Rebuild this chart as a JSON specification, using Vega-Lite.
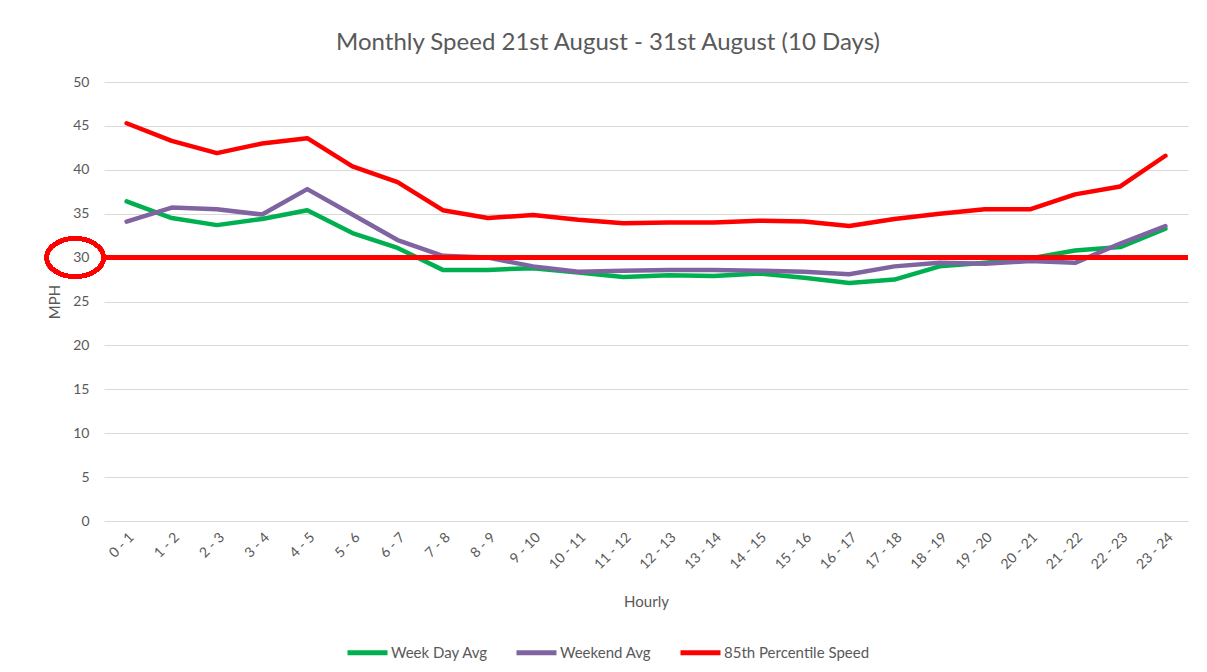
{
  "$schema": "https://vega.github.io/schema/vega-lite/v6.json",
  "width": 1084,
  "height": 439,
  "autosize": {"type": "none"},
  "padding": {"left": 104, "top": 82, "right": 19, "bottom": 151},
  "background": "white",
  "title": {
    "text": "Monthly Speed 21st August - 31st August (10 Days)",
    "font": "Lato",
    "fontSize": 24,
    "fontWeight": "normal",
    "color": "#595959",
    "anchor": "middle",
    "dx": -38,
    "offset": 20
  },
  "config": {
    "view": {"stroke": null},
    "font": "Lato",
    "axis": {"labelFont": "Lato", "titleFont": "Lato", "labelColor": "#595959", "titleColor": "#595959", "labelFontSize": 14, "titleFontSize": 15, "titleFontWeight": "normal", "ticks": false, "domain": false}
  },
  "data": {
    "values": [
      {"hour": "0 - 1", "series": "Week Day Avg", "mph": 36.4},
      {"hour": "1 - 2", "series": "Week Day Avg", "mph": 34.5},
      {"hour": "2 - 3", "series": "Week Day Avg", "mph": 33.7},
      {"hour": "3 - 4", "series": "Week Day Avg", "mph": 34.4},
      {"hour": "4 - 5", "series": "Week Day Avg", "mph": 35.4},
      {"hour": "5 - 6", "series": "Week Day Avg", "mph": 32.8},
      {"hour": "6 - 7", "series": "Week Day Avg", "mph": 31.1},
      {"hour": "7 - 8", "series": "Week Day Avg", "mph": 28.6},
      {"hour": "8 - 9", "series": "Week Day Avg", "mph": 28.6},
      {"hour": "9 - 10", "series": "Week Day Avg", "mph": 28.8},
      {"hour": "10 - 11", "series": "Week Day Avg", "mph": 28.3},
      {"hour": "11 - 12", "series": "Week Day Avg", "mph": 27.8},
      {"hour": "12 - 13", "series": "Week Day Avg", "mph": 28.0},
      {"hour": "13 - 14", "series": "Week Day Avg", "mph": 27.9},
      {"hour": "14 - 15", "series": "Week Day Avg", "mph": 28.2},
      {"hour": "15 - 16", "series": "Week Day Avg", "mph": 27.7},
      {"hour": "16 - 17", "series": "Week Day Avg", "mph": 27.1},
      {"hour": "17 - 18", "series": "Week Day Avg", "mph": 27.5},
      {"hour": "18 - 19", "series": "Week Day Avg", "mph": 29.0},
      {"hour": "19 - 20", "series": "Week Day Avg", "mph": 29.4},
      {"hour": "20 - 21", "series": "Week Day Avg", "mph": 29.9},
      {"hour": "21 - 22", "series": "Week Day Avg", "mph": 30.8},
      {"hour": "22 - 23", "series": "Week Day Avg", "mph": 31.2},
      {"hour": "23 - 24", "series": "Week Day Avg", "mph": 33.3},
      {"hour": "0 - 1", "series": "Weekend Avg", "mph": 34.1},
      {"hour": "1 - 2", "series": "Weekend Avg", "mph": 35.7},
      {"hour": "2 - 3", "series": "Weekend Avg", "mph": 35.5},
      {"hour": "3 - 4", "series": "Weekend Avg", "mph": 34.9},
      {"hour": "4 - 5", "series": "Weekend Avg", "mph": 37.8},
      {"hour": "5 - 6", "series": "Weekend Avg", "mph": 34.9},
      {"hour": "6 - 7", "series": "Weekend Avg", "mph": 32.0},
      {"hour": "7 - 8", "series": "Weekend Avg", "mph": 30.2},
      {"hour": "8 - 9", "series": "Weekend Avg", "mph": 30.0},
      {"hour": "9 - 10", "series": "Weekend Avg", "mph": 29.0},
      {"hour": "10 - 11", "series": "Weekend Avg", "mph": 28.4},
      {"hour": "11 - 12", "series": "Weekend Avg", "mph": 28.5},
      {"hour": "12 - 13", "series": "Weekend Avg", "mph": 28.6},
      {"hour": "13 - 14", "series": "Weekend Avg", "mph": 28.6},
      {"hour": "14 - 15", "series": "Weekend Avg", "mph": 28.5},
      {"hour": "15 - 16", "series": "Weekend Avg", "mph": 28.4},
      {"hour": "16 - 17", "series": "Weekend Avg", "mph": 28.1},
      {"hour": "17 - 18", "series": "Weekend Avg", "mph": 29.0},
      {"hour": "18 - 19", "series": "Weekend Avg", "mph": 29.4},
      {"hour": "19 - 20", "series": "Weekend Avg", "mph": 29.3},
      {"hour": "20 - 21", "series": "Weekend Avg", "mph": 29.6},
      {"hour": "21 - 22", "series": "Weekend Avg", "mph": 29.4},
      {"hour": "22 - 23", "series": "Weekend Avg", "mph": 31.6},
      {"hour": "23 - 24", "series": "Weekend Avg", "mph": 33.6},
      {"hour": "0 - 1", "series": "85th Percentile Speed", "mph": 45.3},
      {"hour": "1 - 2", "series": "85th Percentile Speed", "mph": 43.3},
      {"hour": "2 - 3", "series": "85th Percentile Speed", "mph": 41.9},
      {"hour": "3 - 4", "series": "85th Percentile Speed", "mph": 43.0},
      {"hour": "4 - 5", "series": "85th Percentile Speed", "mph": 43.6},
      {"hour": "5 - 6", "series": "85th Percentile Speed", "mph": 40.4},
      {"hour": "6 - 7", "series": "85th Percentile Speed", "mph": 38.6},
      {"hour": "7 - 8", "series": "85th Percentile Speed", "mph": 35.4},
      {"hour": "8 - 9", "series": "85th Percentile Speed", "mph": 34.5},
      {"hour": "9 - 10", "series": "85th Percentile Speed", "mph": 34.85},
      {"hour": "10 - 11", "series": "85th Percentile Speed", "mph": 34.3},
      {"hour": "11 - 12", "series": "85th Percentile Speed", "mph": 33.9},
      {"hour": "12 - 13", "series": "85th Percentile Speed", "mph": 34.0},
      {"hour": "13 - 14", "series": "85th Percentile Speed", "mph": 34.0},
      {"hour": "14 - 15", "series": "85th Percentile Speed", "mph": 34.2},
      {"hour": "15 - 16", "series": "85th Percentile Speed", "mph": 34.1},
      {"hour": "16 - 17", "series": "85th Percentile Speed", "mph": 33.6},
      {"hour": "17 - 18", "series": "85th Percentile Speed", "mph": 34.4},
      {"hour": "18 - 19", "series": "85th Percentile Speed", "mph": 35.0},
      {"hour": "19 - 20", "series": "85th Percentile Speed", "mph": 35.5},
      {"hour": "20 - 21", "series": "85th Percentile Speed", "mph": 35.5},
      {"hour": "21 - 22", "series": "85th Percentile Speed", "mph": 37.2},
      {"hour": "22 - 23", "series": "85th Percentile Speed", "mph": 38.1},
      {"hour": "23 - 24", "series": "85th Percentile Speed", "mph": 41.6}
    ]
  },
  "layer": [
    {
      "mark": {"type": "line", "strokeWidth": 4.5, "strokeCap": "round", "strokeJoin": "round"},
      "encoding": {
        "x": {
          "field": "hour", "type": "ordinal", "sort": null,
          "title": "Hourly",
          "axis": {"labelAngle": -45, "labelPadding": 9, "titlePadding": 23, "grid": false}
        },
        "y": {
          "field": "mph", "type": "quantitative",
          "scale": {"domain": [0, 50], "nice": false},
          "title": "MPH",
          "axis": {"values": [0, 5, 10, 15, 20, 25, 30, 35, 40, 45, 50], "grid": true, "gridColor": "#D9D9D9", "gridWidth": 1, "labelPadding": 15, "titlePadding": 10}
        },
        "color": {
          "field": "series", "type": "nominal",
          "scale": {"domain": ["Week Day Avg", "Weekend Avg", "85th Percentile Speed"], "range": ["#00B050", "#8064A2", "#FF0000"]},
          "legend": {
            "title": null, "orient": "none", "direction": "horizontal",
            "legendX": 241, "legendY": 548,
            "symbolType": "stroke", "symbolSize": 1600, "symbolStrokeWidth": 5,
            "labelFont": "Lato", "labelFontSize": 15, "labelColor": "#595959",
            "labelOffset": 1, "columnPadding": 18
          }
        }
      }
    },
    {
      "mark": {"type": "rule", "color": "#FF0000", "strokeWidth": 5},
      "encoding": {"y": {"datum": 30}}
    },
    {
      "mark": {
        "type": "point", "filled": false, "stroke": "#FF0000", "strokeWidth": 4, "opacity": 1, "size": 4,
        "shape": "M -23,0 C -23,10.49 -35.81,19 -51.5,19 C -67.19,19 -80,10.49 -80,0 C -80,-10.49 -67.19,-19 -51.5,-19 C -35.81,-19 -23,-10.49 -23,0 Z"
      },
      "encoding": {"x": {"datum": "0 - 1"}, "y": {"datum": 30}}
    }
  ]
}
